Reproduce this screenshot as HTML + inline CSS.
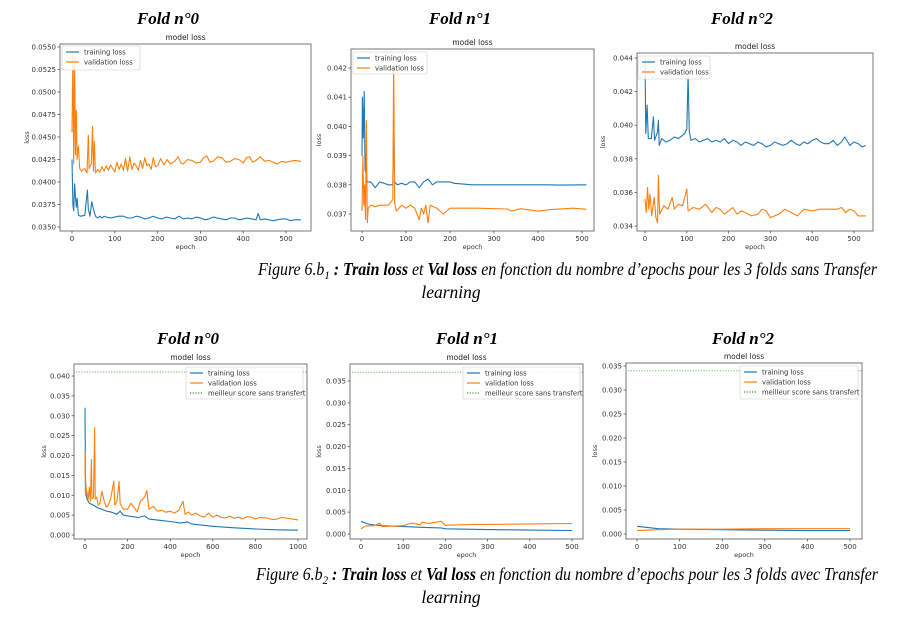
<!DOCTYPE html>
<html><head><meta charset="utf-8"><style>
body{margin:0;background:#fff;width:902px;height:617px;overflow:hidden}
svg{display:block}
</style></head><body>
<svg id="fig" width="902" height="617" viewBox="0 0 902 617" xmlns="http://www.w3.org/2000/svg" font-family="'DejaVu Sans','Liberation Sans',sans-serif">
<text x="258" y="275" font-family="'Liberation Serif',serif" font-style="italic" font-size="17.5" textLength="619" lengthAdjust="spacingAndGlyphs">Figure 6.b<tspan font-size="12" dy="4">1</tspan><tspan dy="-4" font-weight="bold"> : Train loss </tspan>et <tspan font-weight="bold">Val loss</tspan> en fonction du nombre d’epochs pour les 3 folds sans Transfer</text>
<text x="451" y="298" text-anchor="middle" font-family="'Liberation Serif',serif" font-style="italic" font-size="17.5">learning</text>
<text x="256" y="580" font-family="'Liberation Serif',serif" font-style="italic" font-size="17.5" textLength="622" lengthAdjust="spacingAndGlyphs">Figure 6.b<tspan font-size="12" dy="4">2</tspan><tspan dy="-4" font-weight="bold"> : Train loss </tspan>et <tspan font-weight="bold">Val loss</tspan> en fonction du nombre d’epochs pour les 3 folds avec Transfer</text>
<text x="451" y="603" text-anchor="middle" font-family="'Liberation Serif',serif" font-style="italic" font-size="17.5">learning</text>
</svg>
<script>
// ---- data (epochs / loss values) ----
const aTrainEp=[0,2,4,6,8,10,12,15,20,30,36,38,42,46,50,55,60,65,70,75,80,90,100,110,120,130,140,150,160,170,180,190,200,210,220,230,240,250,260,270,280,290,300,310,320,330,340,350,360,370,380,390,400,410,420,430,435,440,450,460,470,480,490,500,510,520,535];
const aTrainVal=[0.0425,0.0375,0.0368,0.0398,0.0385,0.0372,0.0382,0.0363,0.0362,0.0363,0.0391,0.0370,0.0362,0.0378,0.0370,0.0362,0.0360,0.0362,0.0360,0.0362,0.0361,0.0360,0.0361,0.0362,0.0362,0.0360,0.0360,0.0362,0.0361,0.0359,0.0360,0.0362,0.0360,0.0359,0.0361,0.0360,0.0359,0.0362,0.0359,0.0360,0.0359,0.0361,0.0360,0.0358,0.0359,0.0361,0.0360,0.0359,0.0358,0.0360,0.0360,0.0358,0.0359,0.0360,0.0359,0.0358,0.0365,0.0358,0.0359,0.0358,0.0357,0.0358,0.0359,0.0359,0.0357,0.0358,0.0358];
const aValEp=[0,2,4,6,8,10,12,15,18,22,30,35,38,40,45,48,50,52,55,60,65,70,75,80,85,90,95,100,105,110,115,120,125,130,135,140,145,150,155,160,165,170,175,180,185,190,195,200,207,215,222,230,240,248,255,260,270,280,290,300,308,315,322,330,340,350,360,370,380,390,400,408,415,422,430,440,450,460,470,480,490,500,510,520,535];
const aValVal=[0.0455,0.0545,0.0420,0.0540,0.0430,0.0480,0.0425,0.0440,0.0415,0.0412,0.0415,0.0410,0.0452,0.0415,0.0420,0.0462,0.0412,0.0445,0.0410,0.0414,0.0411,0.0417,0.0412,0.0418,0.0413,0.0419,0.0415,0.0411,0.0422,0.0414,0.0420,0.0413,0.0426,0.0412,0.0428,0.0414,0.0421,0.0418,0.0413,0.0424,0.0415,0.0427,0.0418,0.0420,0.0414,0.0427,0.0417,0.0418,0.0426,0.0419,0.0425,0.0420,0.0423,0.0428,0.0421,0.0420,0.0425,0.0424,0.0421,0.0422,0.0427,0.0429,0.0422,0.0423,0.0428,0.0427,0.0422,0.0423,0.0426,0.0425,0.0421,0.0427,0.0428,0.0422,0.0424,0.0428,0.0423,0.0424,0.0422,0.0420,0.0423,0.0422,0.0423,0.0424,0.0423];
const bTrainEp=[0,1,3,5,7,9,12,15,20,25,30,40,50,60,70,72,74,80,90,100,110,120,125,130,140,150,160,170,185,200,210,250,300,350,400,420,450,510];
const bTrainVal=[0.0390,0.0410,0.0396,0.0412,0.0385,0.0384,0.0381,0.0381,0.0381,0.0380,0.0379,0.0381,0.03805,0.0380,0.0380,0.0402,0.0381,0.0380,0.03805,0.0380,0.0381,0.0381,0.0380,0.0379,0.0381,0.0382,0.0380,0.0381,0.0381,0.0381,0.03805,0.0380,0.0380,0.0380,0.0380,0.0380,0.03799,0.0380];
const bValEp=[0,2,4,6,8,10,12,14,20,30,40,50,60,70,72,74,78,90,100,110,120,125,130,135,140,145,150,155,170,185,200,260,330,340,360,400,430,480,510];
const bValVal=[0.0371,0.0390,0.0373,0.0380,0.0368,0.0402,0.0367,0.0372,0.0373,0.03725,0.0373,0.0373,0.0373,0.0375,0.0423,0.0374,0.0371,0.0373,0.0372,0.0373,0.0372,0.0370,0.0368,0.0372,0.0370,0.0373,0.0367,0.0373,0.0372,0.0370,0.0372,0.0372,0.03717,0.0371,0.03718,0.0371,0.03715,0.0372,0.03716];
const cTrainEp=[0,2,5,8,15,20,23,30,32,34,40,50,60,70,80,95,100,103,106,110,120,130,140,150,160,170,180,190,200,210,220,230,240,250,260,270,280,290,300,310,320,330,340,350,360,370,380,390,400,410,420,430,440,450,460,470,478,490,500,510,520,528];
const cTrainVal=[0.0440,0.0395,0.0412,0.0392,0.0392,0.0405,0.0391,0.0396,0.0403,0.0388,0.0392,0.0390,0.0391,0.0393,0.0392,0.0395,0.0398,0.0430,0.0396,0.0391,0.0392,0.0390,0.0391,0.0392,0.0390,0.0391,0.0390,0.0392,0.0389,0.0391,0.0390,0.0388,0.0390,0.0389,0.0388,0.0390,0.0389,0.0387,0.0388,0.0390,0.0389,0.0388,0.0389,0.0391,0.0389,0.0388,0.0390,0.0389,0.0391,0.0392,0.0390,0.0389,0.0389,0.0391,0.0388,0.0390,0.0393,0.0388,0.0390,0.0389,0.0387,0.0388];
const cValEp=[0,3,6,9,12,16,22,26,30,32,35,45,55,65,70,80,90,100,103,115,130,145,160,170,180,190,200,210,220,230,240,255,270,280,290,300,310,320,335,350,365,380,400,420,440,460,470,480,490,500,510,528];
const cValVal=[0.0356,0.0348,0.0363,0.0350,0.0359,0.0346,0.0357,0.0345,0.0342,0.0370,0.0347,0.0352,0.0350,0.0357,0.0350,0.0353,0.0352,0.0362,0.0349,0.0351,0.0350,0.0353,0.0348,0.0351,0.0350,0.0347,0.0349,0.0351,0.0347,0.0349,0.0348,0.0346,0.0347,0.0350,0.0349,0.0345,0.0346,0.0347,0.0350,0.0348,0.0346,0.0350,0.0349,0.0350,0.0350,0.0350,0.0351,0.0348,0.0350,0.0349,0.0346,0.0346];
const dTrainEp=[0,2,5,10,20,40,60,80,100,120,150,165,180,200,250,280,300,350,400,450,480,500,600,700,800,900,1000];
const dTrainVal=[0.032,0.015,0.010,0.009,0.008,0.0075,0.0068,0.0065,0.006,0.0058,0.0052,0.0060,0.0050,0.0048,0.0044,0.0048,0.0040,0.0037,0.0034,0.0030,0.0033,0.0028,0.0022,0.0018,0.0015,0.0013,0.0012];
const dValEp=[0,2,5,10,15,20,25,30,33,40,45,48,55,62,70,80,90,100,110,120,135,140,150,160,165,180,200,215,230,245,260,280,290,300,320,340,360,380,400,420,440,460,470,485,500,520,540,560,580,600,620,640,660,680,700,720,740,760,780,800,820,850,880,900,925,950,975,1000];
const dValVal=[0.021,0.010,0.012,0.0105,0.009,0.012,0.0085,0.019,0.009,0.0095,0.027,0.009,0.0095,0.0075,0.008,0.011,0.0085,0.007,0.0075,0.009,0.0135,0.0075,0.0085,0.0135,0.008,0.0065,0.0065,0.008,0.007,0.0058,0.0085,0.0095,0.0112,0.0065,0.0072,0.006,0.0062,0.0057,0.0060,0.0055,0.0062,0.0085,0.0052,0.0058,0.005,0.0055,0.0048,0.0045,0.0055,0.0045,0.0050,0.0044,0.0043,0.0047,0.0042,0.0045,0.0041,0.0046,0.0045,0.004,0.0044,0.0043,0.0039,0.004,0.0044,0.0042,0.0040,0.0038];
const eTrainEp=[0,20,50,100,150,190,200,250,300,400,500];
const eTrainVal=[0.0029,0.0022,0.0019,0.0017,0.0015,0.0014,0.0012,0.0011,0.0010,0.0009,0.0008];
const eValEp=[0,10,30,45,50,100,120,140,145,160,190,200,260,300,400,500];
const eValVal=[0.0012,0.0018,0.0019,0.0025,0.0017,0.0019,0.0025,0.0021,0.0027,0.0024,0.0029,0.0020,0.0022,0.0022,0.0023,0.0024];
const fTrainEp=[0,50,100,200,300,400,500];
const fTrainVal=[0.0016,0.0011,0.0010,0.0009,0.0008,0.0007,0.0007];
const fValEp=[0,50,100,200,300,400,500];
const fValVal=[0.0007,0.0009,0.0010,0.0010,0.0011,0.0011,0.0011];
const bestScores=[0.041,0.037,0.034];
const xTicksA=[0,100,200,300,400,500];
const xTicksD=[0,200,400,600,800,1000];
const yTicksA=[0.035,0.0375,0.04,0.0425,0.045,0.0475,0.05,0.0525,0.055];
const yTicksB=[0.037,0.038,0.039,0.040,0.041,0.042];
const yTicksC=[0.034,0.036,0.038,0.040,0.042,0.044];
const yTicksD=[0,0.005,0.01,0.015,0.02,0.025,0.03,0.035,0.04];
const yTicksEF=[0,0.005,0.01,0.015,0.02,0.025,0.03,0.035];

const NS='http://www.w3.org/2000/svg';
const svg=document.getElementById('fig');
function mk(tag,attrs,parent){const e=document.createElementNS(NS,tag);for(const k in attrs)e.setAttribute(k,attrs[k]);(parent||svg).appendChild(e);return e;}
const BLUE='#1f77b4',ORANGE='#ff7f0e',GREEN='#2ca02c';

function panel(p){
  const g=mk('g',{});
  
  
  const [l,t,r,b]=p.box;
  const sx=v=>p.xp[0]+(v-p.xv[0])*(p.xp[1]-p.xp[0])/(p.xv[1]-p.xv[0]);
  const sy=v=>p.yp[0]+(v-p.yv[0])*(p.yp[1]-p.yp[0])/(p.yv[1]-p.yv[0]);
  const ft=mk('text',{x:p.foldX,y:p.foldY,'text-anchor':'middle','font-family':"'Liberation Serif',serif",'font-weight':'bold','font-style':'italic','font-size':'17'},g);
  ft.textContent=p.fold;
  
  
  const tt=mk('text',{x:(l+r)/2,y:t-4,'text-anchor':'middle','font-size':'7.5',fill:'#222'},g);
  tt.textContent='model loss';
  
  
  if(p.best!==undefined){
    const bl=mk('line',{x1:l+2,x2:r,y1:sy(p.best),y2:sy(p.best),stroke:GREEN,'stroke-width':1,'stroke-dasharray':'1.2,1.5',opacity:0.7},g);
    
    
  }
  const ln=(ep,vals,col,nm)=>{
    const pts=ep.map((e,i)=>sx(e).toFixed(1)+','+sy(vals[i]).toFixed(1)).join(' ');
    const pl=mk('polyline',{points:pts,fill:'none',stroke:col,'stroke-width':1.1,'stroke-linejoin':'round'},g);
    
    
  };
  ln(p.tE,p.tV,BLUE,'training-loss-line');
  ln(p.vE,p.vV,ORANGE,'validation-loss-line');
  const fr=mk('rect',{x:l,y:t,width:r-l,height:b-t,fill:'none',stroke:'#777','stroke-width':1},g);
  
  
  p.xt.forEach(v=>{
    mk('line',{x1:sx(v),x2:sx(v),y1:b,y2:b+2.5,stroke:'#555','stroke-width':0.8},g);
    const tx=mk('text',{x:sx(v),y:b+10,'text-anchor':'middle','font-size':'7',fill:'#333'},g);
    tx.textContent=v;
    
    
  });
  p.yt.forEach(v=>{
    mk('line',{x1:l-2.5,x2:l,y1:sy(v),y2:sy(v),stroke:'#555','stroke-width':0.8},g);
    const ty=mk('text',{x:l-4,y:sy(v)+2.5,'text-anchor':'end','font-size':'7',fill:'#333'},g);
    ty.textContent=v.toFixed(p.dec);
    
    
  });
  const xl=mk('text',{x:(l+r)/2,y:b+18,'text-anchor':'middle','font-size':'6.5',fill:'#333'},g);
  xl.textContent='epoch';
  
  
  const yx=p.ylabX, yy=(t+b)/2;
  const yl=mk('text',{x:yx,y:yy,'text-anchor':'middle','font-size':'6.5',fill:'#333',transform:`rotate(-90 ${yx} ${yy})`},g);
  yl.textContent='loss';
  
  
  const [lx,ly,lw,lh]=p.leg;
  const lg=mk('g',{},g);
  
  
  mk('rect',{x:lx,y:ly,width:lw,height:lh,fill:'#fff','fill-opacity':0.85,stroke:'#ccc','stroke-width':0.6,rx:1.5},lg);
  const items=[['training loss',BLUE,''],['validation loss',ORANGE,'']];
  if(p.best!==undefined) items.push(['meilleur score sans transfert',GREEN,'1.2,1.5']);
  items.forEach((it,i)=>{
    const y=ly+6+i*10;
    mk('line',{x1:lx+4,x2:lx+17,y1:y,y2:y,stroke:it[1],'stroke-width':1.2,'stroke-dasharray':it[2]||'none'},lg);
    const et=mk('text',{x:lx+22,y:y+2.5,'font-size':'6.8',fill:'#333'},lg);
    et.textContent=it[0];
    
    
  });
}

panel({name:'chart-fold0-no-transfer',fold:'Fold n°0',foldX:168,foldY:24,box:[60,44,311,231],xp:[72,286],xv:[0,500],yp:[227,47],yv:[0.035,0.055],tE:aTrainEp,tV:aTrainVal,vE:aValEp,vV:aValVal,xt:xTicksA,yt:yTicksA,dec:4,ylabX:29,leg:[62,46,78,24]});
panel({name:'chart-fold1-no-transfer',fold:'Fold n°1',foldX:460,foldY:24,box:[351,49,594,231],xp:[362,582],xv:[0,500],yp:[214,68],yv:[0.037,0.042],tE:bTrainEp,tV:bTrainVal,vE:bValEp,vV:bValVal,xt:xTicksA,yt:yTicksB,dec:3,ylabX:321,leg:[353,52,74,22]});
panel({name:'chart-fold2-no-transfer',fold:'Fold n°2',foldX:742,foldY:24,box:[637,53,873,231],xp:[645,854],xv:[0,500],yp:[226,58],yv:[0.034,0.044],tE:cTrainEp,tV:cTrainVal,vE:cValEp,vV:cValVal,xt:xTicksA,yt:yTicksC,dec:3,ylabX:605,leg:[638,56,72,23]});
panel({name:'chart-fold0-transfer',fold:'Fold n°0',foldX:188,foldY:344,box:[74,364,307,539],xp:[85,298],xv:[0,1000],yp:[535,376],yv:[0,0.04],tE:dTrainEp,tV:dTrainVal,vE:dValEp,vV:dValVal,xt:xTicksD,yt:yTicksD,dec:3,ylabX:46,leg:[186,367,117,32],best:bestScores[0]});
panel({name:'chart-fold1-transfer',fold:'Fold n°1',foldX:467,foldY:344,box:[350,364,583,539],xp:[361,572],xv:[0,500],yp:[534,381],yv:[0,0.035],tE:eTrainEp,tV:eTrainVal,vE:eValEp,vV:eValVal,xt:xTicksA,yt:yTicksEF,dec:3,ylabX:321,leg:[463,367,117,32],best:bestScores[1]});
panel({name:'chart-fold2-transfer',fold:'Fold n°2',foldX:743,foldY:344,box:[626,363,862,539],xp:[637,850],xv:[0,500],yp:[534,366],yv:[0,0.035],tE:fTrainEp,tV:fTrainVal,vE:fValEp,vV:fValVal,xt:xTicksA,yt:yTicksEF,dec:3,ylabX:597,leg:[740,366,118,33],best:bestScores[2]});
</script>
</body></html>
